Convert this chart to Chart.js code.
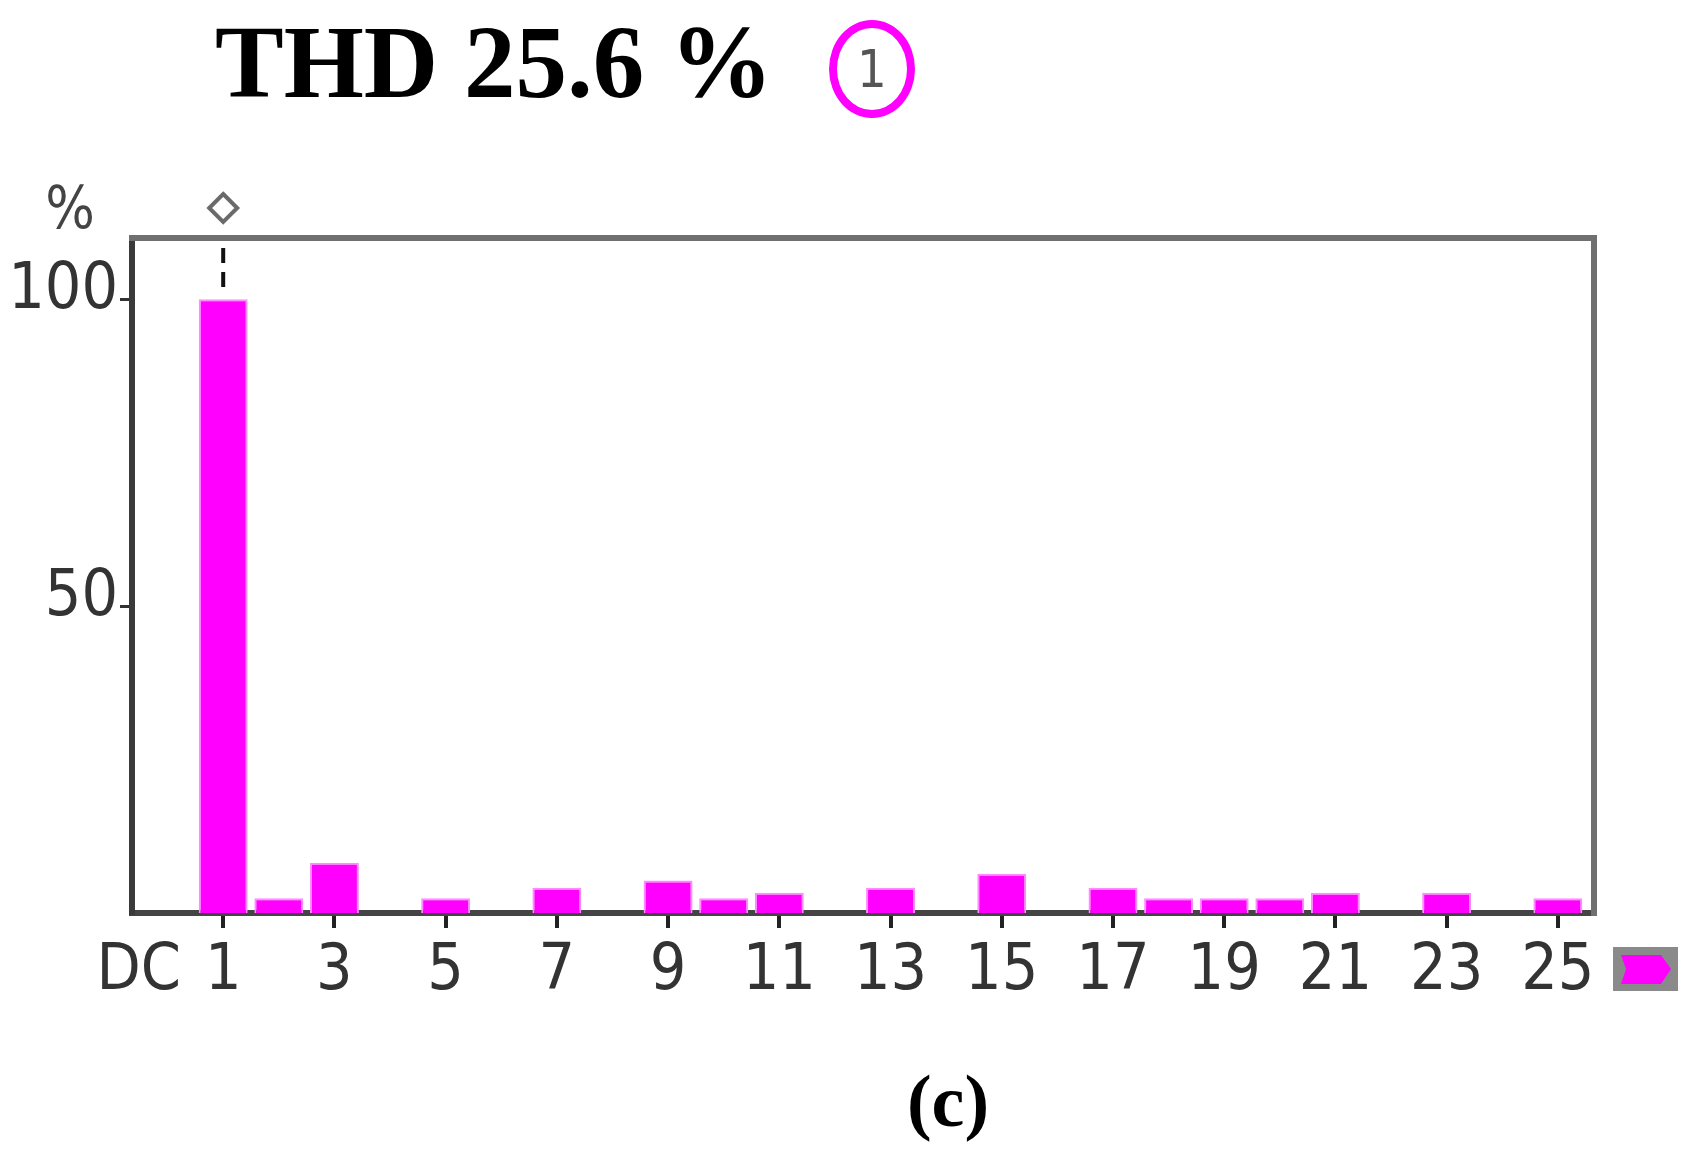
<!DOCTYPE html>
<html>
<head>
<meta charset="utf-8">
<script src="https://cdn.jsdelivr.net/npm/chart.js@4/dist/chart.umd.min.js"></script>
<style>
  html, body { margin: 0; padding: 0; background: #fff; }
  #wrap { position: relative; width: 1703px; height: 1156px; overflow: hidden; }
  #chart_thd { position: absolute; left: 0; top: 0; }
  .title { position: absolute; left: 215px; top: 11px; font: bold 103px/103px "Liberation Serif", "Times New Roman", serif; color: #000; white-space: nowrap; }
  .phase { position: absolute; left: 829px; top: 20px; width: 86px; height: 98px; box-sizing: border-box;
           border: 8px solid #ff00ff; border-radius: 50%; text-align: center;
           font: 52px/82px "DejaVu Sans Condensed", "Liberation Sans", sans-serif; color: #555; }
  .caption { position: absolute; left: 948px; top: 1064px; transform: translateX(-50%);
             font: bold 74px/74px "Liberation Serif", "Times New Roman", serif; color: #000; }
</style>
</head>
<body>
<div id="wrap">
  <canvas id="chart_thd" width="1703" height="1156"></canvas>
  <div class="title">THD 25.6 %</div>
  <div class="phase">1</div>
  <div class="caption">(c)</div>
</div>
<script>
// harmonic order, 0 = DC
var harmonics = [0,1,2,3,4,5,6,7,8,9,10,11,12,13,14,15,16,17,18,19,20,21,22,23,24,25];
// amplitude in % of fundamental
var amplitudes = [0,100,2.4,8.2,0,2.4,0,4.1,0,5.3,2.4,3.3,0,4.1,0,6.4,0,4.1,2.4,2.4,2.4,3.3,0,3.3,0,2.4];
var xTickValues = [0,1,3,5,7,9,11,13,15,17,19,21,23,25];
var xTickLabels = ["DC","1","3","5","7","9","11","13","15","17","19","21","23","25"];
var yTickValues = [50,100];
var cursorHarmonic = 1;

var tickFont = {family: "'DejaVu Sans Condensed','Liberation Sans',sans-serif", size: 64, lineHeight: 1};

// frame, cursor marker, % unit and the little colour key
var extras = {
    id: "extras",
    afterDraw: function(chart){
        var c = chart.ctx, a = chart.chartArea;
        var xs = chart.scales.x, ys = chart.scales.y;
        c.save();
        c.strokeStyle = "#707070";
        c.lineWidth = 6;
        c.beginPath();
        c.moveTo(a.left - 3, a.top);
        c.lineTo(a.right, a.top);
        c.lineTo(a.right, a.bottom + 3);
        c.stroke();

        // cursor: diamond + dashed line
        var cx = xs.getPixelForValue(cursorHarmonic);
        var barTop = ys.getPixelForValue(amplitudes[cursorHarmonic]);
        c.strokeStyle = "#111";
        c.lineWidth = 4;
        c.setLineDash([15, 9]);
        c.beginPath();
        c.moveTo(cx, a.top + 10);
        c.lineTo(cx, barTop - 10);
        c.stroke();
        c.setLineDash([]);
        c.strokeStyle = "#6a6a6a";
        c.lineWidth = 4;
        c.beginPath();
        c.moveTo(cx, a.top - 44);
        c.lineTo(cx + 14, a.top - 30);
        c.lineTo(cx, a.top - 16);
        c.lineTo(cx - 14, a.top - 30);
        c.closePath();
        c.stroke();

        // unit label
        c.fillStyle = "#444";
        c.font = "58px 'DejaVu Sans Condensed','Liberation Sans',sans-serif";
        c.textAlign = "center";
        c.textBaseline = "alphabetic";
        c.fillText("%", 70, a.top - 10);

        // colour key
        var kx = a.right + 19, ky = a.bottom + 34;
        c.fillStyle = "#8a8a8a";
        c.fillRect(kx, ky, 65, 44);
        c.fillStyle = "#ff00ff";
        c.beginPath();
        c.moveTo(kx + 8, ky + 8);
        c.lineTo(kx + 48, ky + 8);
        c.lineTo(kx + 58, ky + 22);
        c.lineTo(kx + 48, ky + 37);
        c.lineTo(kx + 8, ky + 37);
        c.lineTo(kx + 13, ky + 22);
        c.closePath();
        c.fill();
        c.restore();
    }
};

var points = harmonics.map(function(h, i){ return {x: h, y: amplitudes[i]}; });

new Chart(document.getElementById("chart_thd").getContext("2d"), {
    type: "bar",
    data: {
        datasets: [{
            data: points,
            backgroundColor: "#ff00ff",
            borderColor: "#ff8cff",
            borderWidth: 2,
            borderSkipped: "bottom",
            categoryPercentage: 1,
            barPercentage: 0.88
        }]
    },
    options: {
        responsive: false,
        animation: false,
        devicePixelRatio: 1,
        layout: {padding: {left: 0, right: 109, top: 238, bottom: 143}},
        plugins: {legend: {display: false}, tooltip: {enabled: false}},
        scales: {
            x: {
                type: "linear",
                offset: false,
                min: -0.64,
                max: 25.65,
                afterFit: function(s){ s.height = 100; },
                afterBuildTicks: function(s){
                    s.ticks = xTickValues.map(function(v){ return {value: v}; });
                },
                ticks: {
                    autoSkip: false,
                    maxRotation: 0,
                    padding: 12,
                    color: "#333",
                    font: tickFont,
                    callback: function(v){
                        var lbl = xTickLabels[xTickValues.indexOf(v)];
                        // the DC label sits left of its slot
                        return v === 0 ? lbl + "\u2003" : lbl;
                    }
                },
                grid: {
                    offset: false,
                    drawOnChartArea: false,
                    tickLength: 15,
                    lineWidth: 4,
                    color: function(ctx){ return ctx.tick && ctx.tick.value === 0 ? "rgba(0,0,0,0)" : "#222"; }
                },
                border: {color: "#444", width: 6}
            },
            y: {
                min: 0,
                max: 110,
                afterFit: function(s){ s.width = 132; },
                afterBuildTicks: function(s){
                    s.ticks = yTickValues.map(function(v){ return {value: v}; });
                },
                ticks: {
                    padding: 2,
                    labelOffset: -8,
                    color: "#333",
                    font: tickFont
                },
                grid: {drawOnChartArea: false, tickLength: 12, lineWidth: 3, color: "#333"},
                border: {color: "#3a3a3a", width: 6}
            }
        }
    },
    plugins: [extras]
});
</script>
</body>
</html>
